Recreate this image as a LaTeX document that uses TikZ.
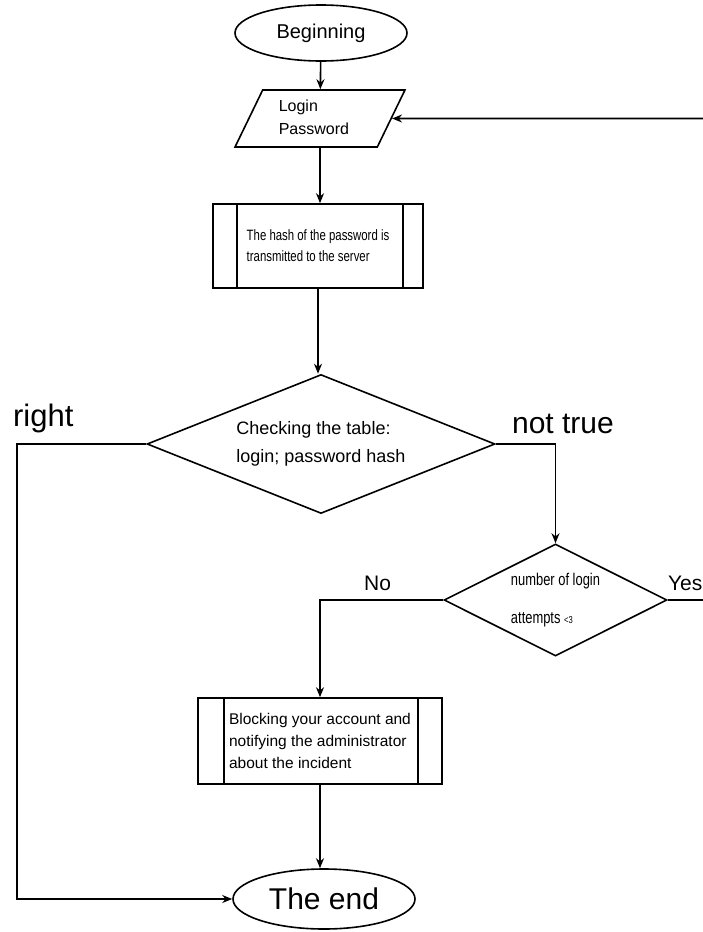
\documentclass[tikz,border=0pt]{standalone}
\usepackage{fontspec}
\setmainfont{Liberation Sans}
\newfontfamily\narrowfont[FakeStretch=0.76]{Liberation Sans}
\usetikzlibrary{shapes.geometric,arrows.meta}

\begin{document}
\begin{tikzpicture}[x=1pt,y=-1pt,line width=1.6pt,
    term/.style={draw,ellipse,inner sep=0pt},
    io/.style={draw,trapezium,trapezium left angle=64,trapezium right angle=116,
      trapezium stretches,minimum width=170,minimum height=57,inner sep=0pt,align=left},
    proc/.style={draw,rectangle,inner sep=0pt,align=left},
    decide/.style={draw,diamond,inner sep=0pt,align=left},
    flow/.style={-{Stealth[length=10pt,width=8pt]}}]
    \useasboundingbox (0,0) rectangle (703,932);
    \node[term,minimum width=172,minimum height=56,font=\fontsize{20}{24}\selectfont] (beg) at (321,33) {Beginning};
    \node[io,font=\fontsize{16}{23}\selectfont] (inp) at (320,118.5) {\phantom{Login}\\\phantom{Password}};
    \node[anchor=west,align=left,inner sep=0pt,font=\fontsize{16}{23}\selectfont] (inptxt) at (278,117) {Login\\Password};
    \node[proc,minimum width=210,minimum height=84,font=\narrowfont\fontsize{15}{21}\selectfont] (hash) at (318,246)
        {The hash of the password is\\transmitted to the server};
    \draw ([xshift=25]hash.north west) -- ([xshift=25]hash.south west);
    \draw ([xshift=-21]hash.north east) -- ([xshift=-21]hash.south east);
    \node[decide,aspect=2.5,minimum width=348,minimum height=139,font=\fontsize{18}{28}\selectfont] (check) at (321,444)
        {Checking the table:\\login; password hash};
    \node[decide,aspect=2,minimum width=223,minimum height=112,font=\narrowfont\fontsize{17}{38}\selectfont] (tries) at (555.5,600)
        {number of login\\attempts {\fontsize{10}{12}\selectfont<3}};
    \node[proc,minimum width=244,minimum height=86,font=\fontsize{15.5}{22}\selectfont] (block) at (320,741)
        {Blocking your account and\\notifying the administrator\\about the incident};
    \draw ([xshift=27]block.north west) -- ([xshift=27]block.south west);
    \draw ([xshift=-25]block.north east) -- ([xshift=-25]block.south east);
    \node[term,minimum width=182,minimum height=60,font=\fontsize{30}{36}\selectfont] (fin) at (324,899) {The end};

    \coordinate (yesR) at (703,600);
    \coordinate (loopR) at (703,118.5);

    \draw[flow] (beg) -- (inp);
    \draw[flow] (inp.south) -- (inp.south |- hash.north);
    \draw[flow] (hash.south) -- (hash.south |- check.north);
    \draw[flow] (check.east) -| (tries.north);
    \draw[flow] (tries.west) -| (block.north);
    \draw[flow] (block.south) -- (block.south |- fin.north);
    \draw[flow] (check.west) -- ++(-129,0) |- (fin.west);
    \draw (tries.east) -- (yesR);
    \draw[flow] (loopR) -- (inp.east);

    \node[anchor=base west,font=\fontsize{31}{36}\selectfont] (lright) at (9,426) {right};
    \node[anchor=base west,font=\fontsize{30}{36}\selectfont] (lfalse) at (508,433) {not true};
    \node[anchor=base west,font=\fontsize{21}{26}\selectfont] (lno) at (360,590) {No};
    \node[anchor=base west,font=\fontsize{21}{26}\selectfont] (lyes) at (664,590) {Yes};
\end{tikzpicture}
\end{document}
